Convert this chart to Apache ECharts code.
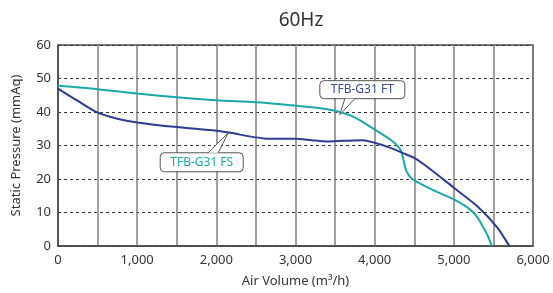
<!DOCTYPE html>
<html>
<head>
<meta charset="utf-8">
<script src="https://cdn.jsdelivr.net/npm/echarts@6/dist/echarts.min.js"></script>
<style>
  html, body { margin: 0; padding: 0; background: #fff; }
  #main { width: 553px; height: 293px; }
</style>
</head>
<body>
<div id="main"></div>
<script>
// 风量 / 静压 数据 (TFB-G31, 60Hz)
const ftFlow = [0, 500, 1000, 1500, 2000, 2500, 2900, 3200, 3400, 3550, 3700, 3850, 4000, 4200, 4300, 4340, 4370, 4400, 4460, 4600, 4800, 5000, 5200, 5300, 5350, 5420, 5480];
const ftPressure = [47.8, 46.8, 45.5, 44.4, 43.5, 42.9, 42.1, 41.4, 40.8, 40.1, 38.9, 37.0, 34.8, 31.7, 29.6, 28.0, 25.0, 22.4, 20.3, 18.3, 16.0, 13.9, 11.0, 8.5, 6.5, 3.5, 0];
const fsFlow = [0, 250, 500, 750, 1000, 1500, 2000, 2200, 2400, 2600, 2800, 3000, 3200, 3400, 3600, 3850, 4000, 4200, 4350, 4500, 4700, 5000, 5300, 5550, 5700];
const fsPressure = [47.0, 43.3, 39.8, 38.0, 36.9, 35.5, 34.4, 33.7, 32.8, 32.1, 32.0, 32.0, 31.6, 31.2, 31.4, 31.6, 30.8, 29.3, 27.8, 26.3, 23.0, 17.4, 11.8, 5.5, 0];
const xTicks = ['0', '1,000', '2,000', '3,000', '4,000', '5,000', '6,000'];

const teal = '#1aa9a9';
const navy = '#2f3c95';
const font = '"Noto Sans", "Open Sans", sans-serif';

const zip = (a, b) => a.map((v, i) => [v, b[i]]);

const chart = echarts.init(document.getElementById('main'));

chart.setOption({
  backgroundColor: '#fff',
  animation: false,
  title: {
    text: '60Hz',
    left: 296,
    top: 6,
    textAlign: 'center',
    textStyle: { fontFamily: font, fontWeight: 'normal', fontSize: 19, color: '#333' },
  },
  grid: {
    left: 58, right: 20, top: 45, bottom: 46,
    show: true, borderColor: '#4a4a4a', borderWidth: 1.5,
  },
  xAxis: {
    type: 'value',
    min: 0, max: 6000, interval: 500,
    name: 'Air Volume (m³/h)',
    nameLocation: 'middle',
    nameGap: 29,
    nameTextStyle: { fontFamily: font, fontSize: 13, color: '#333' },
    axisLine: { show: true, lineStyle: { color: '#4a4a4a', width: 1.5 } },
    axisTick: { show: false },
    axisLabel: {
      fontFamily: font, fontSize: 13, color: '#333', margin: 8,
      formatter(v) { return v % 1000 === 0 ? xTicks[v / 1000] : ''; },
    },
    splitLine: { show: true, lineStyle: { color: '#808080', width: 1.5 } },
  },
  yAxis: {
    type: 'value',
    min: 0, max: 60, interval: 10,
    name: 'Static Pressure (mmAq)',
    nameLocation: 'middle',
    nameGap: 35,
    nameTextStyle: { fontFamily: font, fontSize: 13, color: '#333' },
    axisLine: { show: true, lineStyle: { color: '#4a4a4a', width: 1.5 } },
    axisTick: { show: false },
    axisLabel: { fontFamily: font, fontSize: 13, color: '#333', margin: 7 },
    splitLine: { show: true, lineStyle: { color: '#333', width: 1, type: [3, 3] } },
  },
  series: [
    {
      name: 'TFB-G31 FT',
      type: 'line',
      data: zip(ftFlow, ftPressure),
      smooth: 0.3,
      symbol: 'none',
      lineStyle: { color: teal, width: 2 },
      z: 3,
    },
    {
      name: 'TFB-G31 FS',
      type: 'line',
      data: zip(fsFlow, fsPressure),
      smooth: 0.25,
      symbol: 'none',
      lineStyle: { color: navy, width: 2 },
      z: 4,
    },
  ],
});

// 标注框 (callout)
function callout(tipData, dx, dy, w, h, baseL, baseR, text, color) {
  const tip = chart.convertToPixel({ gridIndex: 0 }, tipData);
  const bx = tip[0] + dx;
  const by = tip[1] + dy;
  const baseY = dy < 0 ? by + h : by;
  return [
    {
      type: 'rect',
      shape: { x: bx, y: by, width: w, height: h, r: 4 },
      style: { fill: '#fff', stroke: '#555', lineWidth: 1 },
      z: 100,
    },
    {
      type: 'polygon',
      shape: { points: [[bx + baseL, baseY], [tip[0], tip[1]], [bx + baseR, baseY]] },
      style: { fill: '#fff', stroke: null },
      z: 101,
    },
    {
      type: 'polyline',
      shape: { points: [[bx + baseL, baseY], [tip[0], tip[1]], [bx + baseR, baseY]] },
      style: { fill: null, stroke: '#555', lineWidth: 1 },
      z: 102,
    },
    {
      type: 'text',
      x: bx + w / 2,
      y: by + h / 2,
      style: {
        text, fill: color, font: '12px ' + font,
        align: 'center', verticalAlign: 'middle',
      },
      z: 103,
    },
  ];
}

chart.setOption({
  graphic: [
    ...callout([3560, 39.2], -20, -34, 85, 18, 25, 35, 'TFB-G31 FT', '#3a4ba3'),
    ...callout([2150, 33.8], -68, 20, 83, 19, 48, 58, 'TFB-G31 FS', teal),
  ],
});
</script>
</body>
</html>
